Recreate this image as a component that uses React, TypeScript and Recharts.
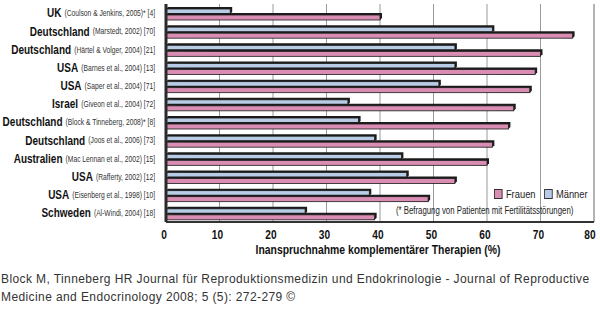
import {
  BarChart,
  Bar,
  XAxis,
  YAxis,
  CartesianGrid,
  ReferenceLine,
} from "recharts";

// Studies, top to bottom as in the figure
const countries = [
  "UK",
  "Deutschland",
  "Deutschland",
  "USA",
  "USA",
  "Israel",
  "Deutschland",
  "Deutschland",
  "Australien",
  "USA",
  "USA",
  "Schweden",
];
const sources = [
  "(Coulson & Jenkins, 2005)* [4]",
  "(Marstedt, 2002) [70]",
  "(Härtel & Volger, 2004) [21]",
  "(Barnes et al., 2004) [13]",
  "(Saper et al., 2004) [71]",
  "(Giveon et al., 2004) [72]",
  "(Block & Tinneberg, 2008)* [8]",
  "(Joos et al., 2006) [73]",
  "(Mac Lennan et al., 2002) [15]",
  "(Rafferty, 2002) [12]",
  "(Eisenberg et al., 1998) [10]",
  "(Al-Windi, 2004) [18]",
];
const maenner = [12, 61, 54, 54, 51, 34, 36, 39, 44, 45, 38, 26];
const frauen = [40, 76, 70, 69, 68, 65, 64, 61, 60, 54, 49, 39];
const xTicks = [0, 10, 20, 30, 40, 50, 60, 70, 80];

const MALE = "#b9cce6";
const FEMALE = "#d98db2";
const EDGE = "#1c1c1c";
const SANS = "'Liberation Sans', Arial, sans-serif";
// no condensed face installed, so squeeze Arial horizontally
const SQUEEZE = 0.78;

const data = countries.map((c, i) => ({
  key: `${i}`,
  country: c,
  source: sources[i],
  maenner: maenner[i],
  frauen: frauen[i],
}));

// Flat bar with a shallow dark "3D" rim on top and right
function Bar3D(props: any) {
  const { x, y, width, height, fill } = props;
  if (width == null || width <= 0) return null;
  const d = 2;
  const yy = y + 1;
  return (
    <g>
      <polygon
        points={`${x},${yy} ${x + d},${yy - d} ${x + width + d},${yy - d} ${x + width + d},${yy + height - d} ${x + width},${yy + height}`}
        fill={EDGE}
      />
      <rect x={x} y={yy} width={width} height={height} fill={fill} stroke={EDGE} strokeWidth={0.8} />
    </g>
  );
}

function StudyTick({ x = 0, y = 0, payload }: any) {
  const row = data[Number(payload?.value)];
  if (!row) return null;
  return (
    <g transform={`translate(${x - 3},${y + 1}) scale(${SQUEEZE},1)`}>
      <text textAnchor="end" dominantBaseline="middle" fontFamily={SANS}>
        <tspan fontSize={12.8} fontWeight={700} fill="#111">
          {row.country}
        </tspan>
        <tspan fontSize={8.6} fill="#333" dx={4}>
          {row.source}
        </tspan>
      </text>
    </g>
  );
}

function ValueTick({ x = 0, y = 0, payload }: any) {
  return (
    <g transform={`translate(${x - 2},${y + 9}) scale(0.78,1)`}>
      <text textAnchor="middle" fontFamily={SANS} fontSize={13} fontWeight={700} fill="#111">
        {payload.value}
      </text>
    </g>
  );
}

function AxisTitle({ viewBox }: any) {
  const cx = viewBox.x + viewBox.width / 2 - 2;
  const by = viewBox.y + viewBox.height - 8;
  return (
    <g transform={`translate(${cx},${by}) scale(0.8,1)`}>
      <text textAnchor="middle" fontFamily={SANS} fontSize={13} fontWeight={700} fill="#111">
        Inanspruchnahme komplementärer Therapien (%)
      </text>
    </g>
  );
}

export default function App() {
  return (
    <div style={{ position: "absolute", left: 0, top: 0, width: 600, height: 327, background: "#fff" }}>
      <BarChart
        width={600}
        height={270}
        data={data}
        layout="vertical"
        margin={{ top: 4, right: 6, left: 0, bottom: 8 }}
        barSize={5}
        barGap={1}
      >
        <CartesianGrid vertical horizontal={false} stroke="#9a9a9a" strokeWidth={1} />
        <XAxis
          xAxisId="top"
          orientation="top"
          type="number"
          domain={[0, 80]}
          height={0}
          tick={false}
          tickLine={false}
          axisLine={{ stroke: "#9a9a9a" }}
        />
        <XAxis
          type="number"
          domain={[0, 80]}
          ticks={xTicks}
          height={40}
          tick={<ValueTick />}
          tickLine={false}
          axisLine={{ stroke: "#333", strokeWidth: 2 }}
          label={<AxisTitle />}
        />
        <YAxis
          type="category"
          dataKey="key"
          width={166}
          tick={<StudyTick />}
          tickLine={false}
          interval={0}
          axisLine={{ stroke: "#2a2a2a", strokeWidth: 3 }}
        />
        <ReferenceLine x={80} stroke="#9a9a9a" />
        <Bar dataKey="maenner" name="Männer" fill={MALE} shape={<Bar3D />} isAnimationActive={false} />
        <Bar dataKey="frauen" name="Frauen" fill={FEMALE} shape={<Bar3D />} isAnimationActive={false} />
      </BarChart>

      <div
        style={{
          position: "absolute",
          left: 494,
          top: 188,
          fontFamily: SANS,
          fontSize: 11,
          color: "#222",
          display: "flex",
          alignItems: "center",
          gap: 4,
          whiteSpace: "nowrap",
          transform: "scaleX(0.85)",
          transformOrigin: "left center",
        }}
      >
        <span style={{ width: 8, height: 8, background: FEMALE, border: "1px solid #333", display: "inline-block" }} />
        <span style={{ marginRight: 6 }}>Frauen</span>
        <span style={{ width: 8, height: 8, background: MALE, border: "1px solid #333", display: "inline-block" }} />
        <span>Männer</span>
      </div>
      <div
        style={{
          position: "absolute",
          left: 396,
          top: 205,
          fontFamily: SANS,
          fontSize: 10,
          color: "#222",
          whiteSpace: "nowrap",
          transform: "scaleX(0.78)",
          transformOrigin: "left center",
        }}
      >
        (* Befragung von Patienten mit Fertilitätsstörungen)
      </div>

      <div
        style={{
          position: "absolute",
          left: 1,
          top: 270,
          fontFamily: SANS,
          fontSize: 12,
          lineHeight: "18px",
          letterSpacing: "0.4px",
          color: "#333",
          width: 620,
          whiteSpace: "nowrap",
        }}
      >
        Block M, Tinneberg HR Journal für Reproduktionsmedizin und Endokrinologie - Journal of Reproductive
        <br />
        Medicine and Endocrinology 2008; 5 (5): 272-279 ©
      </div>
    </div>
  );
}
